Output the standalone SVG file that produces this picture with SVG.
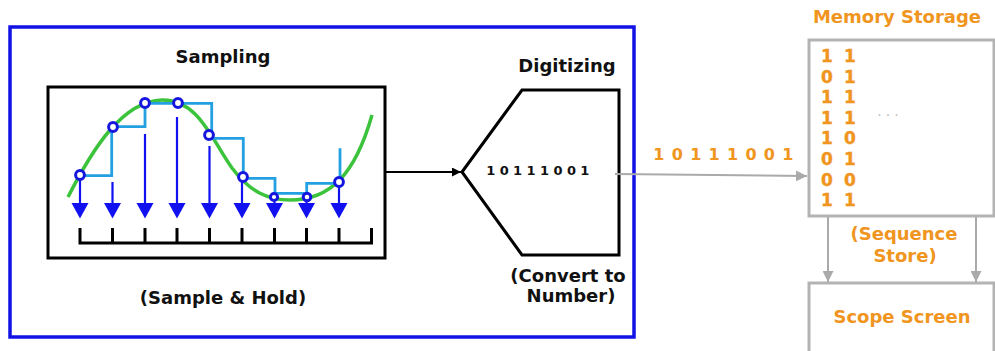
<svg xmlns="http://www.w3.org/2000/svg" width="995" height="351" viewBox="0 0 995 351">
<style>
.t{font-family:"DejaVu Sans",Verdana,sans-serif;font-weight:bold;font-size:18px;text-anchor:middle}
.k{fill:#111}
.o{fill:#F0951E}
.shaft{stroke:#1010F0;stroke-width:2.2}
.tri{fill:#1010F0}
.circ{fill:#fff;stroke:#1515E0;stroke-width:3}
.tick{stroke:#000;stroke-width:3;fill:none}
.gl{stroke:#aaaaaa;stroke-width:2;fill:none}
</style>
<defs>
<marker id="ab" viewBox="0 0 10 10" refX="10" refY="5" markerWidth="9" markerHeight="9" markerUnits="userSpaceOnUse" orient="auto"><path d="M0,0 L10,5 L0,10 z" fill="#000"/></marker>
<marker id="ag" viewBox="0 0 10 10" refX="10" refY="5" markerWidth="11" markerHeight="11" markerUnits="userSpaceOnUse" orient="auto"><path d="M0,0 L10,5 L0,10 z" fill="#aaaaaa"/></marker>
<polygon id="tri" points="-8.5,0 8.5,0 0,15.5" class="tri"/>
</defs>
<rect width="995" height="351" fill="#fff"/>
<g id="frame"><rect x="10" y="27" width="624" height="310" fill="none" stroke="#1212E6" stroke-width="3.5"/></g>
<g id="sampling">
<text class="t k" x="223" y="63">Sampling</text>
<rect x="48" y="87" width="337" height="171" fill="none" stroke="#000" stroke-width="3"/>
<path d="M68,197 C92,150 122,101 162,100 C198,99 212,140 232,168 C250,192 268,200 290,200 C330,200 355,175 372,115" fill="none" stroke="#3CC33C" stroke-width="3.5"/>
<path d="M80,175.7 H111.7 V126.7 H145 V103.3 H211.7 V138.3 H243.3 V178.3 H275 V193.3 H306.7 V183.3 H340 V148.3" fill="none" stroke="#23A0E2" stroke-width="2.8"/>
<path class="tick" d="M80,228 V243 H371.5 V228 M112.5,228 V243 M145,228 V243 M177,228 V243 M209.5,228 V243 M242,228 V243 M274.5,228 V243 M306.5,228 V243 M339,228 V243"/>
<g>
<line class="shaft" x1="80" y1="179" x2="80" y2="205"/>
<line class="shaft" x1="112.5" y1="182" x2="112.5" y2="205"/>
<line class="shaft" x1="145" y1="134" x2="145" y2="205"/>
<line class="shaft" x1="177" y1="117" x2="177" y2="205"/>
<line class="shaft" x1="209.5" y1="146" x2="209.5" y2="205"/>
<line class="shaft" x1="242" y1="180" x2="242" y2="205"/>
<line class="shaft" x1="274.5" y1="200" x2="274.5" y2="205"/>
<line class="shaft" x1="306.5" y1="200" x2="306.5" y2="205"/>
<line class="shaft" x1="339" y1="186" x2="339" y2="205"/>
<use href="#tri" x="80" y="203"/>
<use href="#tri" x="112.5" y="203"/>
<use href="#tri" x="145" y="203"/>
<use href="#tri" x="177" y="203"/>
<use href="#tri" x="209.5" y="203"/>
<use href="#tri" x="242" y="203"/>
<use href="#tri" x="274.5" y="203"/>
<use href="#tri" x="306.5" y="203"/>
<use href="#tri" x="339" y="203"/>
</g>
<g>
<circle class="circ" cx="80" cy="175" r="4.4"/>
<circle class="circ" cx="113" cy="127" r="4.4"/>
<circle class="circ" cx="145" cy="103" r="4.4"/>
<circle class="circ" cx="178" cy="103" r="4.4"/>
<circle class="circ" cx="209" cy="135" r="4.4"/>
<circle class="circ" cx="243" cy="177" r="4.4"/>
<circle class="circ" cx="274" cy="197" r="3.6"/>
<circle class="circ" cx="307" cy="197" r="3.8"/>
<circle class="circ" cx="339" cy="182" r="4.4"/>
</g>
<text class="t k" x="223" y="304">(Sample &amp; Hold)</text>
</g>
<g id="digitizing">
<text class="t k" x="567" y="72">Digitizing</text>
<polygon points="462,172 522,90 619,90 619,255 522,255" fill="none" stroke="#000" stroke-width="3" stroke-linejoin="miter"/>
<text class="t k" x="540" y="175" style="font-size:13px;letter-spacing:4.4px">10111001</text>
<text class="t k" x="568" y="282">(Convert to</text>
<text class="t k" x="571" y="302">Number)</text>
</g>
<g id="memory">
<text class="t o" x="897" y="23">Memory Storage</text>
<rect x="809" y="40" width="185" height="176" fill="#fff" stroke="#b3b3b3" stroke-width="3"/>
<g class="t o" style="font-size:17px;stroke:#F0951E;stroke-width:0.4">
<text x="827 850" y="62">11</text>
<text x="827 850" y="82.6">01</text>
<text x="827 850" y="103.2">11</text>
<text x="827 850" y="123.8">11</text>
<text x="827 850" y="144.4">10</text>
<text x="827 850" y="165">01</text>
<text x="827 850" y="185.6">00</text>
<text x="827 850" y="206.2">11</text>
</g>
<text x="890" y="116" style="font-family:'DejaVu Sans',sans-serif;font-size:14px;fill:#bbbbbb;text-anchor:middle;letter-spacing:4px">...</text>
</g>
<g id="scope">
<rect x="809" y="283" width="185" height="80" fill="#fff" stroke="#b3b3b3" stroke-width="3"/>
<text class="t o" x="902" y="323">Scope Screen</text>
</g>
<g id="connectors">
<line x1="386" y1="172" x2="461" y2="172" stroke="#000" stroke-width="2" marker-end="url(#ab)"/>
<line class="gl" x1="615" y1="174" x2="807" y2="176" marker-end="url(#ag)"/>
<line class="gl" x1="828" y1="217" x2="828" y2="282" marker-end="url(#ag)"/>
<line class="gl" x1="976" y1="217" x2="976" y2="282" marker-end="url(#ag)"/>
<text class="t o" x="727" y="160" style="font-size:16px;letter-spacing:7.3px">10111001</text>
<text class="t o" x="904" y="240">(Sequence</text>
<text class="t o" x="905" y="262">Store)</text>
</g>
</svg>
